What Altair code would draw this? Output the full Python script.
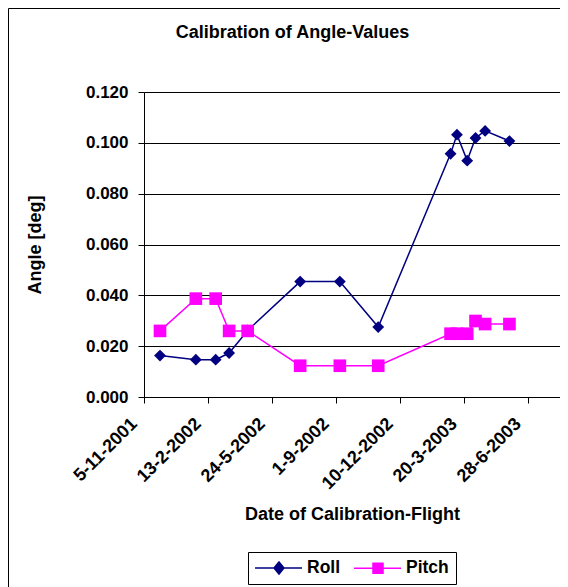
import altair as alt
import pandas as pd

# ---- data ----
dates = ["2001-11-30", "2002-01-25", "2002-02-25", "2002-03-18", "2002-04-16",
         "2002-07-07", "2002-09-07", "2002-11-06", "2003-02-27", "2003-03-09",
         "2003-03-25", "2003-04-07", "2003-04-22", "2003-05-30"]
roll = [0.0163, 0.0147, 0.0147, 0.0173, 0.0262, 0.0454, 0.0454, 0.0275,
        0.0957, 0.1032, 0.0930, 0.1019, 0.1047, 0.1007]
pitch = [0.0260, 0.0387, 0.0387, 0.0260, 0.0260, 0.0123, 0.0123, 0.0123,
         0.0249, 0.0249, 0.0249, 0.0299, 0.0287, 0.0287]
series_names = ["Roll", "Pitch"]
series_colors = ["#000080", "#FF00FF"]
tick_dates = ["2001-11-05", "2002-02-13", "2002-05-24", "2002-09-01",
              "2002-12-10", "2003-03-20", "2003-06-28"]
x_end = "2003-08-17"
y_ticks = [0.0, 0.02, 0.04, 0.06, 0.08, 0.10, 0.12]

FONT = "Liberation Sans"


def dt(s):
    y, m, d = (int(p) for p in s.split("-"))
    return alt.DateTime(year=y, month=m, date=d, utc=True)


df = pd.DataFrame({
    "date": dates + dates,
    "value": roll + pitch,
    "series": ["Roll"] * len(dates) + ["Pitch"] * len(dates),
})

x_enc = alt.X(
    "date:T",
    scale=alt.Scale(type="utc", domain=[dt(tick_dates[0]), dt(x_end)]),
    axis=alt.Axis(
        values=[dt(t) for t in tick_dates],
        labelExpr="utcFormat(datum.value, '%-d-%-m-%Y')",
        labelAngle=-45, labelAlign="right", labelBaseline="middle",
        labelOffset=-10, labelPadding=18, labelOverlap=False, labelFlush=False,
        labelFontSize=18, tickSize=6, grid=False,
        title="Date of Calibration-Flight", titleY=122, titleBaseline="alphabetic",
    ),
)
y_enc = alt.Y(
    "value:Q",
    scale=alt.Scale(domain=[0, 0.12], nice=False),
    axis=alt.Axis(
        values=y_ticks, format=".3f", grid=True, gridColor="black", gridWidth=1,
        tickSize=6, labelPadding=10, title="Angle [deg]", titlePadding=41,
    ),
)

base = alt.Chart(df)

roll_layer = base.transform_filter(alt.datum.series == "Roll").mark_line(
    color=series_colors[0], strokeWidth=1.5,
    point=alt.OverlayMarkDef(shape="diamond", size=140, filled=True,
                             color=series_colors[0], opacity=1),
).encode(x=x_enc, y=y_enc)

pitch_layer = base.transform_filter(alt.datum.series == "Pitch").mark_line(
    color=series_colors[1], strokeWidth=1.5,
    point=alt.OverlayMarkDef(shape="square", size=160, filled=True,
                             color=series_colors[1], opacity=1),
).encode(x=x_enc, y=y_enc)

legend_paths = [
    "M-1.125,0H4.75M1.875,-0.75L2.5,0L1.875,0.75L1.25,0Z",
    "M-1.125,0H4.75M1.25,-0.625H2.5V0.625H1.25Z",
]
leg = alt.Legend(
    orient="none", legendX=104, legendY=460, direction="horizontal",
    title=None, fillColor="white", strokeColor="black", padding=7,
    symbolSize=256, symbolStrokeWidth=1.5, symbolOpacity=1,
    labelOffset=34, columnPadding=10,
    labelFont=FONT, labelFontSize=17.5, labelFontWeight="bold", labelColor="black",
)
legend_layer = base.transform_filter("false").mark_point(
    filled=True, opacity=1, strokeWidth=1.5
).encode(
    fill=alt.Fill("series:N", scale=alt.Scale(domain=series_names, range=series_colors), legend=leg),
    stroke=alt.Stroke("series:N", scale=alt.Scale(domain=series_names, range=series_colors), legend=leg),
    shape=alt.Shape("series:N", scale=alt.Scale(domain=series_names, range=legend_paths), legend=leg),
)

frame_df = pd.DataFrame({"k": [0]})
frame_left = alt.Chart(frame_df).mark_rule(color="black", strokeWidth=1).encode(
    x=alt.value(-135.5), y=alt.value(-83.5), y2=alt.value(520))
frame_top = alt.Chart(frame_df).mark_rule(color="black", strokeWidth=1).encode(
    x=alt.value(-135.5), x2=alt.value(440), y=alt.value(-83.5))

chart = alt.layer(
    frame_left, frame_top, roll_layer, pitch_layer, legend_layer
).properties(
    width=416, height=305,
    title=alt.TitleParams(
        text="Calibration of Angle-Values", anchor="middle", frame="group",
        dx=-59.5, dy=48, baseline="alphabetic", offset=0,
        font=FONT, fontSize=18, fontWeight="bold", color="black",
    ),
    autosize=alt.AutoSizeParams(type="none"),
    padding={"left": 136, "top": 84, "right": 0, "bottom": 190},
    background="white",
).configure_view(
    fill="#C0C0C0", stroke="#808080", strokeWidth=1
).configure_axis(
    labelFont=FONT, titleFont=FONT, labelFontSize=17, titleFontSize=18,
    labelFontWeight="bold", titleFontWeight="bold",
    labelColor="black", titleColor="black", tickColor="black", domainColor="black",
)

chart.save("out.html", embed_options={"renderer": "svg", "actions": False})
